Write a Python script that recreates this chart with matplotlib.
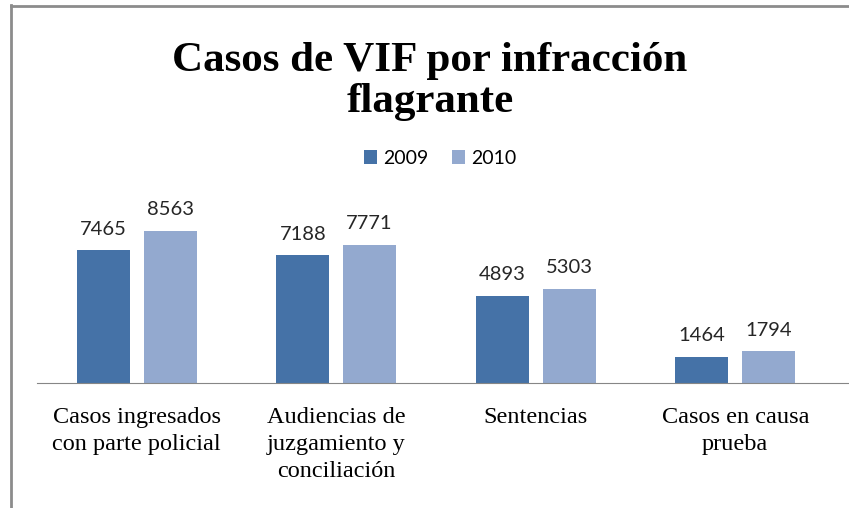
import matplotlib
matplotlib.use("Agg")
import matplotlib.pyplot as plt
import numpy as np

categories = ["Casos ingresados\ncon parte policial",
              "Audiencias de\njuzgamiento y\nconciliación",
              "Sentencias",
              "Casos en causa\nprueba"]
years = ["2009", "2010"]
vals_2009 = [7465, 7188, 4893, 1464]
vals_2010 = [8563, 7771, 5303, 1794]
colors = ["#4572A7", "#93A9CF"]

W, H = 849, 508
fig = plt.figure(figsize=(W / 100, H / 100), dpi=100)
fig.patch.set_facecolor("white")

# frame lines (left and top only visible)
fig.add_artist(plt.Line2D([11 / W, 11 / W], [0, 1 - 5 / H], color="#8c8c8c", lw=2))
fig.add_artist(plt.Line2D([11 / W, 1], [1 - 6 / H, 1 - 6 / H], color="#8c8c8c", lw=2))

ax = fig.add_axes([37 / W, (H - 383) / H, (W - 37) / W, 178 / H])
x = np.arange(len(categories))
w = 0.266
off = 0.167
b1 = ax.bar(x - off, vals_2009, w, color=colors[0], label=years[0])
b2 = ax.bar(x + off, vals_2010, w, color=colors[1], label=years[1])

ax.set_xlim(-0.5, 3.57)
ax.set_ylim(0, 10000)
for s in ["top", "right", "left"]:
    ax.spines[s].set_visible(False)
ax.spines["bottom"].set_color("#868686")
ax.set_yticks([])
ax.set_xticks([])

for bars in (b1, b2):
    for r in bars:
        ax.annotate(str(int(r.get_height())),
                    (r.get_x() + r.get_width() / 2, r.get_height()),
                    xytext=(0, 9), textcoords="offset points",
                    ha="center", va="bottom", fontsize=14.5,
                    family="Lato", color="#262626")

for i, c in enumerate(categories):
    ax.text(i, -1350, c, ha="center", va="top", fontsize=17.5,
            family="Liberation Serif", linespacing=1.38)

fig.text(430 / W, 1 - 71 / H, "Casos de VIF por infracción", ha="center",
         va="baseline", fontsize=31, fontweight="bold", family="Liberation Serif")
fig.text(430 / W, 1 - 112 / H, "flagrante", ha="center",
         va="baseline", fontsize=31, fontweight="bold", family="Liberation Serif")

leg = fig.legend(loc="center", bbox_to_anchor=(440 / W, 1 - 158 / H), ncol=2,
                 frameon=False, handlelength=0.7, handleheight=0.7,
                 handletextpad=0.3, columnspacing=1.2,
                 prop={"family": "Lato", "size": 14})

fig.savefig("out.png", dpi=100)
